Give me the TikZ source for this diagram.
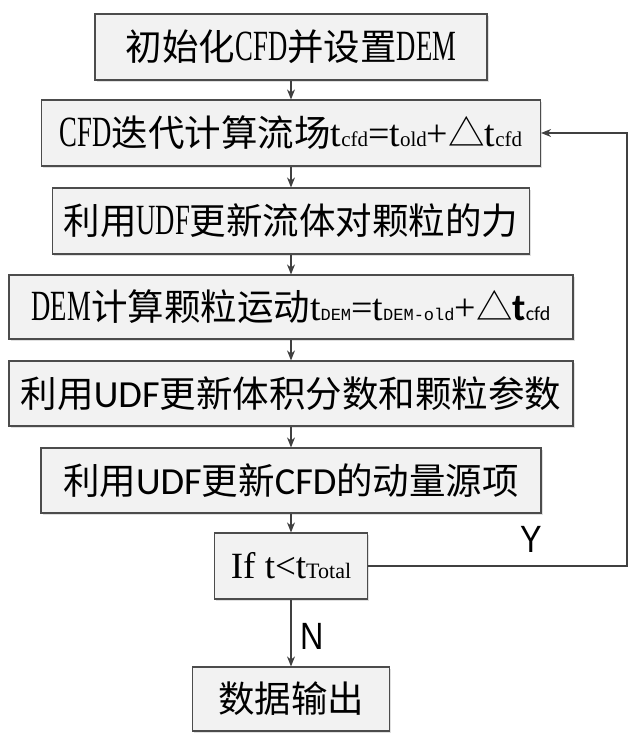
\documentclass[tikz,border=0pt]{standalone}
\usepackage{fontspec}
\setmainfont{Noto Sans CJK SC}
\newfontfamily\tnr[Scale=1.18,FakeStretch=0.62]{Liberation Serif}
\newfontfamily\tms{Liberation Serif}
\newfontfamily\mono{Liberation Mono}
\newfontfamily\calib[Scale=1.05]{Carlito}
\newfontfamily\arl[FakeStretch=0.85]{Liberation Sans}
\usetikzlibrary{arrows.meta,shadows}
\newcommand\subs[1]{{\fontsize{21}{21}\selectfont #1}}
\newcommand\tsz[1]{{\fontsize{38}{40}\selectfont #1}}
\tikzset{
  stepbox/.style={draw=black!70,fill=black!5,line width=1.2pt,inner sep=0pt,
    minimum height=66pt,font=\fontsize{36.5}{40}\selectfont,
    drop shadow={shadow xshift=1.5pt,shadow yshift=-1.5pt,fill=black!20,opacity=0.6}},
  arr/.style={draw=black!75,line width=1.2pt,-{Stealth[length=10pt,width=8pt]}},
  yn/.style={font=\arl\fontsize{38}{40}\selectfont,inner sep=0pt}
}
\begin{document}
\begin{tikzpicture}[x=1pt,y=-1pt]
            \def\xc{291} % Mittelachse
            \useasboundingbox[fill=white] (0,0) rectangle (640,740);
            \node (init) at (\xc,47) [stepbox,minimum width=392pt] {初始化{\tnr CFD}并设置{\tnr DEM}};
            \node (cfd) at (\xc,133) [stepbox,minimum width=499pt] {{\tnr CFD}迭代计算流场{\tms\tsz{t}\subs{cfd}\tsz{=t}\subs{old}\tsz{+}}△{\tms\tsz{t}\subs{cfd}}};
            \node (force) at (\xc,221) [stepbox,minimum width=477pt] {利用{\tnr UDF}更新流体对颗粒的力};
            \node (dem) at (\xc,307) [stepbox,minimum width=564pt,minimum height=64pt] {{\tnr DEM}计算颗粒运动{\tms\tsz{t}{\mono\fontsize{17}{17}\selectfont DEM}\tsz{=t}{\mono\fontsize{17}{17}\selectfont DEM-old}\tsz{+}}△{\calib{\bfseries t}{\fontsize{19}{19}\selectfont cfd}}};
            \node (vol) at (\xc,393.5) [stepbox,minimum width=564pt,minimum height=65pt] {利用{\calib UDF}更新体积分数和颗粒参数};
            \node (src) at (\xc,480.5) [stepbox,minimum width=500pt,minimum height=65pt] {利用{\calib UDF}更新{\calib CFD}的动量源项};
            \node (check) at (\xc,566) [stepbox,minimum width=153pt] {{\tms\fontsize{37}{40}\selectfont If t<t{\fontsize{22}{22}\selectfont Total}}};
            \node (out) at (\xc,699) [stepbox,minimum width=197pt,minimum height=64pt] {数据输出};
            \coordinate (back) at (627,566);
            \draw[arr] (init) -- (cfd);
            \draw[arr] (cfd) -- (force);
            \draw[arr] (force) -- (dem);
            \draw[arr] (dem) -- (vol);
            \draw[arr] (vol) -- (src);
            \draw[arr] (src) -- (check);
            \draw[arr] (check) -- node[yn,right=9pt,pos=0.55] {N} (out);
            \draw[arr] (check.east) -- node[yn,above=13pt,pos=0.63] {Y} (back) |- (cfd.east);
    \end{tikzpicture}
\end{document}
